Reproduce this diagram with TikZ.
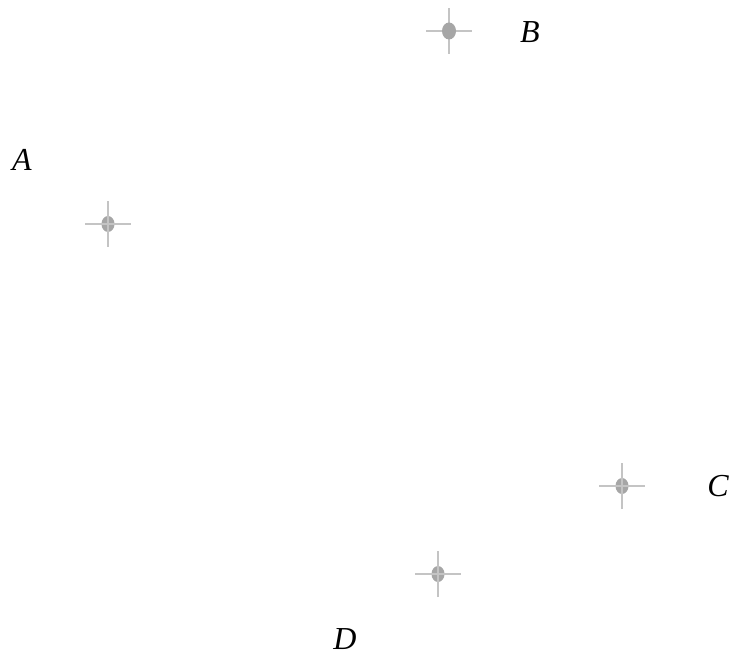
\documentclass[tikz,border=0pt]{standalone}
\usepackage{fontspec}
\setmainfont{Liberation Serif}
\definecolor{linegray}{HTML}{C4C4C4}
\definecolor{dotgray}{HTML}{A6A6A6}
\begin{document}
\begin{tikzpicture}[x=1pt,y=1pt,
  arm/.style={draw=linegray,line width=1.8pt},
  dot/.style={fill=dotgray,draw=none},
  lbl/.style={font=\fontsize{32}{36}\selectfont\itshape,inner sep=0pt}]
\useasboundingbox (0,0) rectangle (735,659);
% marker centres
\coordinate (pA) at (108,435);
\coordinate (pB) at (449,628);
\coordinate (pC) at (622,173);
\coordinate (pD) at (438,85);
% B: dot over cross
\draw[arm] ([xshift=-23pt]pB) -- ([xshift=23pt]pB);
\draw[arm] ([yshift=-23pt]pB) -- ([yshift=23pt]pB);
\fill[dot] (pB) ellipse (7pt and 8.5pt);
% A, C, D: cross over dot
\foreach \p in {pA,pC,pD}{
  \fill[dot] (\p) ellipse (6.5pt and 8pt);
  \draw[arm] ([xshift=-23pt]\p) -- ([xshift=23pt]\p);
  \draw[arm] ([yshift=-23pt]\p) -- ([yshift=23pt]\p);
}
\node[lbl] (A) at (22,499) {A};
\node[lbl] (B) at (530,627) {B};
\node[lbl] (C) at (718,173) {C};
\node[lbl] (D) at (345,20) {D};
\end{tikzpicture}
\end{document}
